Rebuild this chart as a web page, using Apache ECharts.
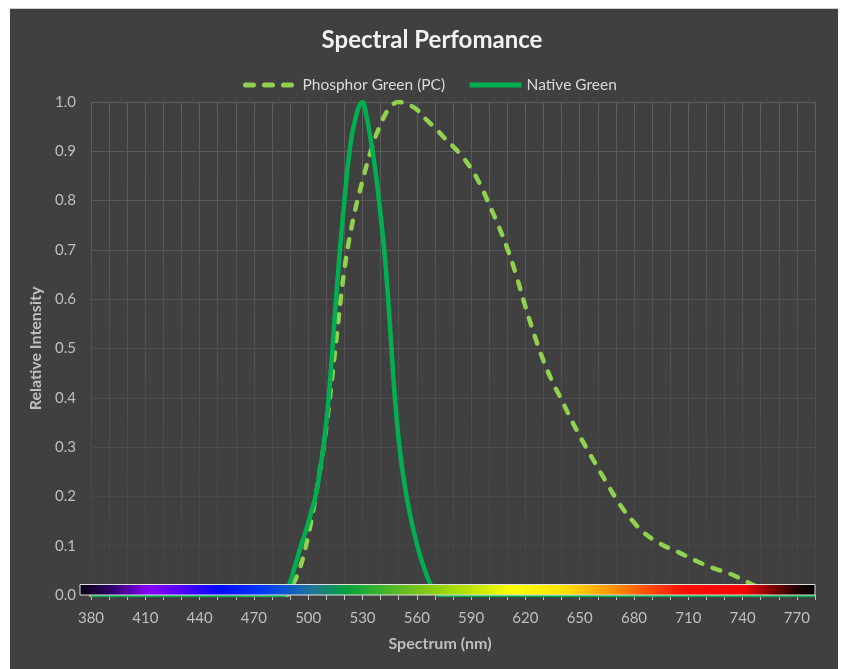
<!DOCTYPE html>
<html>
<head>
<meta charset="utf-8">
<script src="https://cdn.jsdelivr.net/npm/echarts@6/dist/echarts.min.js"></script>
<style>
  html, body { margin: 0; padding: 0; background: #ffffff; }
  #wrap { position: relative; width: 841px; height: 669px; overflow: hidden; }
  #backdrop { position: absolute; left: 10px; top: 8px; width: 828px; height: 661px; background: #404040; border-top: 1px solid #cfcfcf; }
  #chart { position: absolute; left: 0; top: 0; width: 841px; height: 669px; }
</style>
</head>
<body>
<div id="wrap">
  <div id="backdrop"></div>
  <div id="chart"></div>
</div>
<script>
// ---- Data ----
const seriesNames = ['Phosphor Green (PC)', 'Native Green'];

// Phosphor Green (PC): wavelength (nm) and relative intensity
const phosphorNm  = [380, 488, 490, 495, 500, 505, 510, 515, 520, 525, 530, 535, 540, 545, 550, 555, 560, 565, 570, 575, 580, 585, 590, 595, 600, 605, 610, 615, 620, 625, 630, 635, 640, 645, 650, 655, 660, 665, 670, 675, 680, 685, 690, 695, 700, 705, 710, 715, 720, 725, 730, 735, 740, 745, 750, 755, 760, 780];
const phosphorVal = [0, 0, 0.01, 0.05, 0.12, 0.22, 0.34, 0.50, 0.66, 0.765, 0.84, 0.905, 0.955, 0.988, 1.0, 0.995, 0.985, 0.965, 0.948, 0.928, 0.91, 0.89, 0.865, 0.833, 0.792, 0.75, 0.703, 0.648, 0.585, 0.527, 0.475, 0.432, 0.396, 0.358, 0.323, 0.29, 0.258, 0.227, 0.196, 0.169, 0.147, 0.128, 0.114, 0.103, 0.094, 0.086, 0.077, 0.068, 0.06, 0.053, 0.047, 0.04, 0.031, 0.022, 0.013, 0.006, 0, 0];

// Native Green: wavelength (nm) and relative intensity
const nativeNm  = [380, 486, 488, 490, 492, 494, 496, 498, 500, 502, 504, 506, 508, 510, 512, 514, 516, 518, 520, 522, 524, 526, 528, 530, 532, 534, 536, 538, 540, 542, 544, 546, 548, 550, 552, 554, 556, 558, 560, 562, 564, 566, 568, 570, 572, 780];
const nativeVal = [0, 0, 0.005, 0.025, 0.05, 0.075, 0.1, 0.122, 0.146, 0.172, 0.2, 0.24, 0.29, 0.35, 0.43, 0.53, 0.63, 0.72, 0.8, 0.875, 0.93, 0.965, 0.99, 1.0, 0.975, 0.935, 0.89, 0.835, 0.77, 0.70, 0.61, 0.50, 0.395, 0.315, 0.255, 0.208, 0.168, 0.134, 0.104, 0.078, 0.055, 0.035, 0.018, 0.006, 0, 0];

// Axis ticks
const xMin = 380, xMax = 780, xStep = 10, xLabelStep = 30;
const yMin = 0, yMax = 1, yStep = 0.1;

// ---- Chart ----
const zip = (a, b) => a.map((v, i) => [v, b[i]]);
const font = 'Lato, "Open Sans", sans-serif';
const gridFade = {
  type: 'linear', x: 0, y: 102, x2: 0, y2: 595, global: true,
  colorStops: [{ offset: 0, color: '#5f5f5f' }, { offset: 0.55, color: '#4f4f4f' }, { offset: 1, color: '#444444' }]
};

const chart = echarts.init(document.getElementById('chart'), null, { renderer: 'canvas' });
chart.setOption({
  backgroundColor: 'transparent',
  animation: false,
  title: {
    text: 'Spectral Perfomance',
    left: 427, top: 23, textAlign: 'center',
    textStyle: { color: '#f2f2f2', fontFamily: font, fontSize: 24, fontWeight: 'bold' }
  },
  legend: {
    left: 238, top: 72,
    itemWidth: 52, itemHeight: 14, itemGap: 22,
    textStyle: { color: '#d9d9d9', fontFamily: font, fontSize: 15.5 },
    itemStyle: { opacity: 0 },
    lineStyle: { width: 5 },
    data: seriesNames
  },
  grid: { left: 91, right: 26, top: 102, bottom: 74 },
  xAxis: {
    type: 'value', min: xMin, max: xMax, interval: xStep,
    name: 'Spectrum (nm)', nameLocation: 'middle', nameGap: 41,
    nameTextStyle: { color: '#bfbfbf', fontFamily: font, fontSize: 16, fontWeight: 'bold', padding: [0, 26, 0, 0] },
    axisLine: { show: false },
    axisTick: { show: true, length: 5, lineStyle: { color: '#bfbfbf', width: 1 } },
    axisLabel: {
      color: '#bfbfbf', fontFamily: font, fontSize: 15, margin: 16,
      formatter: v => ((v - xMin) % xLabelStep === 0 && v < xMax) ? String(v) : ''
    },
    splitLine: { show: true, lineStyle: { color: gridFade, width: 1 } }
  },
  yAxis: {
    type: 'value', min: yMin, max: yMax, interval: yStep,
    name: 'Relative Intensity', nameLocation: 'middle', nameGap: 44,
    nameTextStyle: { color: '#bfbfbf', fontFamily: font, fontSize: 16, fontWeight: 'bold' },
    axisLine: { show: false },
    axisTick: { show: false },
    axisLabel: { color: '#bfbfbf', fontFamily: font, fontSize: 15, margin: 15, formatter: v => v.toFixed(1) },
    splitLine: { show: true, lineStyle: { color: gridFade, width: 1 } }
  },
  series: [
    {
      name: seriesNames[0], type: 'line', data: zip(phosphorNm, phosphorVal),
      smooth: 0.4, symbol: 'none', showSymbol: false, z: 2,
      lineStyle: { color: '#92d050', width: 4.5, type: [8, 11], cap: 'round', join: 'round' },
      itemStyle: { color: '#92d050' }
    },
    {
      name: seriesNames[1], type: 'line', data: zip(nativeNm, nativeVal),
      smooth: 0.4, symbol: 'none', showSymbol: false, z: 3,
      lineStyle: { color: '#00b050', width: 4.5, join: 'round' },
      itemStyle: { color: '#00b050' }
    }
  ],
  graphic: [{
    type: 'rect', z: 100, silent: true,
    shape: { x: 80, y: 584.5, width: 735, height: 10.5 },
    style: {
      stroke: '#e0e0e0', lineWidth: 1,
      fill: {
        type: 'linear', x: 0, y: 0, x2: 1, y2: 0,
        colorStops: [
          { offset: 0, color: '#0a0010' }, { offset: 0.04, color: '#2a0060' },
          { offset: 0.095, color: '#8a00ff' }, { offset: 0.14, color: '#5000ff' },
          { offset: 0.19, color: '#0008ff' }, { offset: 0.245, color: '#0035ff' },
          { offset: 0.29, color: '#1060c0' }, { offset: 0.32, color: '#207a90' },
          { offset: 0.36, color: '#00a040' }, { offset: 0.40, color: '#30b030' },
          { offset: 0.45, color: '#70c020' }, { offset: 0.52, color: '#b0e000' },
          { offset: 0.59, color: '#ffff00' }, { offset: 0.66, color: '#ffe000' },
          { offset: 0.72, color: '#ff9800' }, { offset: 0.77, color: '#ff5000' },
          { offset: 0.82, color: '#ff1000' }, { offset: 0.90, color: '#ff0000' },
          { offset: 0.94, color: '#800000' }, { offset: 0.975, color: '#200000' },
          { offset: 1, color: '#000000' }
        ]
      }
    }
  }]
});
</script>
</body>
</html>
